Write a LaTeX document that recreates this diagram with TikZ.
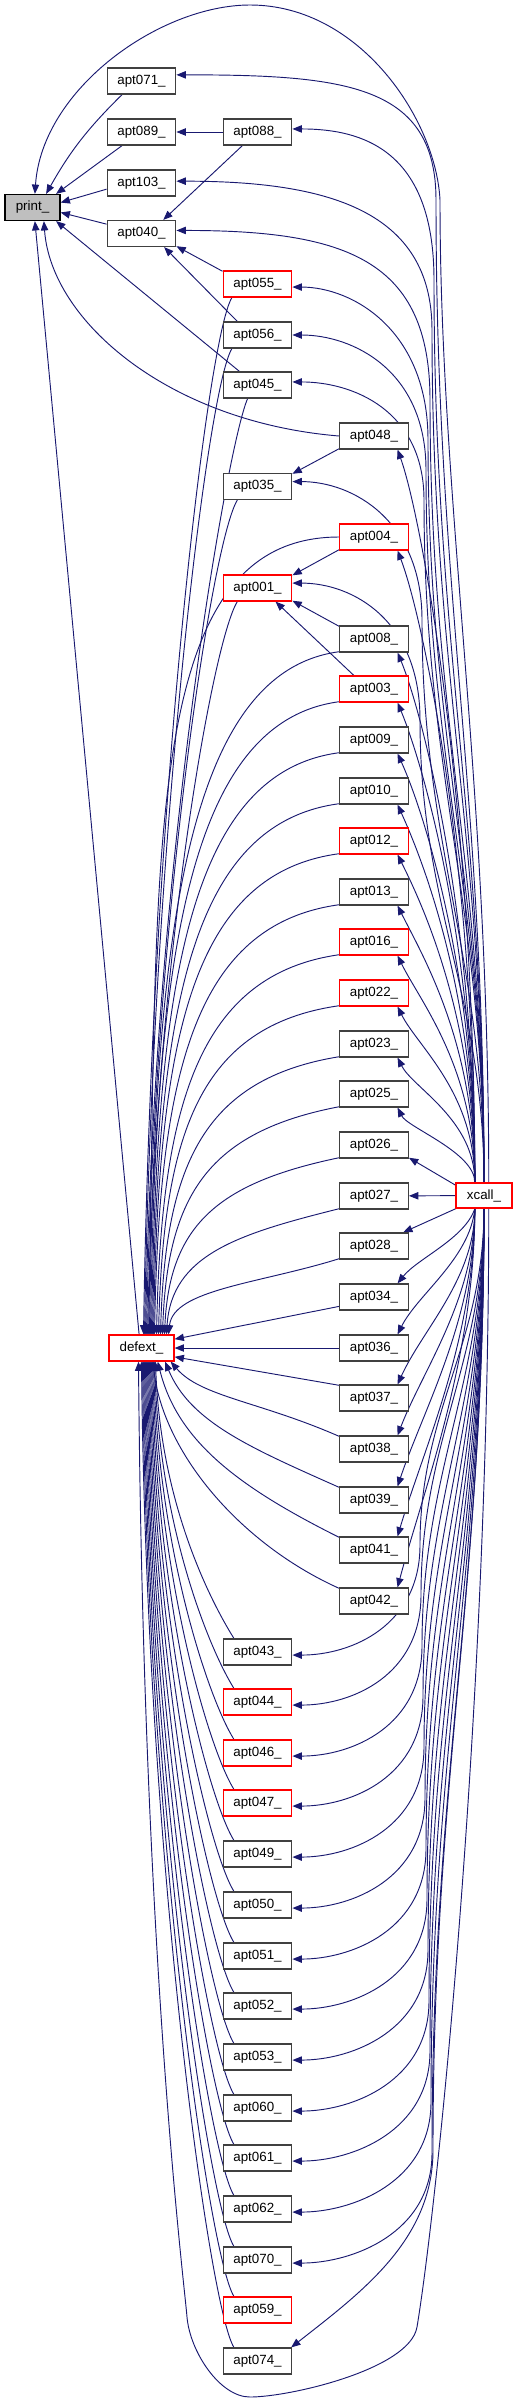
\documentclass[tikz,border=0pt]{standalone}
\usepackage{fontspec}
\setmainfont{Liberation Sans}
\usetikzlibrary{arrows.meta,calc}
\definecolor{edgeblue}{HTML}{191970}
\definecolor{boxgray}{HTML}{404040}
\definecolor{printfill}{HTML}{BFBFBF}
\pgfdeclarelayer{bg}
\pgfsetlayers{bg,main}
\begin{document}
\begin{tikzpicture}[x=0.75pt,y=-0.75pt,
  nbox/.style={draw=boxgray, line width=0.9pt, fill=white, inner sep=0pt, minimum height=19.5pt, font=\fontsize{10}{12}\selectfont},
  cw/.style={nbox, minimum width=51.5pt},
  edg/.style={draw=edgeblue, line width=0.7pt, -{Triangle[length=7pt,width=5.5pt]}},
]
\useasboundingbox (0,0) rectangle (517,2403);
% nodes
\node[nbox, fill=printfill, draw=black, minimum width=41.25pt] (print) at (32.5,207.5) {print\_};
\foreach \n/\y/\c in {apt071/81/boxgray, apt089/132/boxgray, apt103/183/boxgray, apt040/233.5/boxgray}
  \node[cw, draw=\c] (\n) at (141.5,\y) {\n\_};
\foreach \n/\y/\c in {apt088/132/boxgray, apt055/284/red, apt056/335/boxgray, apt045/385/boxgray, apt035/486.5/boxgray, apt001/588/red,
  apt043/1652/boxgray, apt044/1702/red, apt046/1753/red, apt047/1803/red, apt049/1854/boxgray, apt050/1905/boxgray, apt051/1956/boxgray,
  apt052/2006/boxgray, apt053/2057/boxgray, apt060/2108/boxgray, apt061/2158/boxgray, apt062/2209/boxgray, apt070/2260/boxgray,
  apt059/2310/red, apt074/2361/boxgray}
  \node[cw, draw=\c] (\n) at (257.5,\y) {\n\_};
\foreach \n/\y/\c in {apt048/436/boxgray, apt004/537/red, apt008/639/boxgray, apt003/689/red, apt009/740/boxgray, apt010/791/boxgray,
  apt012/841/red, apt013/892/boxgray, apt016/942/red, apt022/993/red, apt023/1044/boxgray, apt025/1094/boxgray, apt026/1145/boxgray,
  apt027/1196/boxgray, apt028/1246/boxgray, apt034/1297/boxgray, apt036/1348/boxgray, apt037/1398/boxgray, apt038/1449/boxgray,
  apt039/1500/boxgray, apt041/1550/boxgray, apt042/1601/boxgray}
  \node[cw, draw=\c] (\n) at (374,\y) {\n\_};
\node[nbox, draw=red, minimum width=48.75pt] (defext) at (141.5,1348) {defext\_};
\node[nbox, draw=red, minimum width=42pt, minimum height=18.75pt] (xcall) at (484,1195.5) {xcall\_};

\begin{pgfonlayer}{bg}
% edges into print_
\draw[edg] (apt071.215) to[bend right=8] (print.45);
\draw[edg] (apt089.215) -- (print.30);
\draw[edg] (apt103.190) -- (print.10);
\draw[edg] (apt040.165) -- (print.350);
\draw[edg] (defext.100) -- (print.280);
\draw[edg] (apt048.west) .. controls +(-170,-14) and +(7,100) .. (print.310);
\draw[edg] (apt045.143) -- (print.330);
\draw[edg] (xcall.70) .. controls +(0,-400) and +(0,300) .. (440,200) .. controls +(-4,-80) and +(110,0) .. (250,5) .. controls +(-90,0) and +(7,-105) .. (print.80);
% other direct edges
\draw[edg] (apt088) -- (apt089);
\draw[edg] (apt088.222) -- (apt040.32);
\draw[edg] (apt055.160) -- (apt040.340);
\draw[edg] (apt056.146) -- (apt040.329);
\draw[edg] (apt048.200) -- (apt035.20);
\draw[edg] (apt004.200) -- (apt001.20);
\draw[edg] (apt008.160) -- (apt001.340);
\draw[edg] (apt003.146) -- (apt001.323);
% into defext_ from upper column 3
\draw[edg] (apt055.208) .. controls +(-25,40) and +(8,-520) .. ($(defext.north)+(2,0)$);
\draw[edg] (apt056.208) .. controls +(-25,40) and +(8,-490) .. ($(defext.north)+(3,0)$);
\draw[edg] (apt045.234) .. controls +(-20,45) and +(8,-470) .. ($(defext.north)+(4,0)$);
\draw[edg] (apt035.214) .. controls +(-25,40) and +(8,-420) .. ($(defext.north)+(5,0)$);
\draw[edg] (apt001.214) .. controls +(-25,40) and +(8,-370) .. ($(defext.north)+(6,0)$);
% into defext_ from upper column 4
\draw[edg] (apt004.west) .. controls +(-200,0) and +(10,-480) .. ($(defext.north)+(7,0)$);
\foreach \n/\o/\a/\b/\c in {apt008/8/-150/20/-410, apt003/9/-150/20/-380, apt009/10/-150/20/-350, apt010/11/-150/20/-320,
  apt012/12/-150/20/-290, apt013/13/-145/20/-260, apt016/15/-140/20/-230, apt022/17/-140/20/-200, apt023/19/-135/22/-170,
  apt025/21/-130/25/-140, apt026/23/-120/25/-110, apt027/25/-100/25/-80, apt028/27/-80/25/-45}
  \draw[edg] (\n.200) .. controls +(\a,\b) and +(5,\c) .. ($(defext.north)+(\o,0)$);
% into defext_ from lower column 4
\draw[edg] (apt034.195) -- (defext.15);
\draw[edg] (apt036) -- (defext);
\draw[edg] (apt037.160) -- (defext.345);
\draw[edg] (apt038.160) .. controls +(-80,-35) and +(30,35) .. (defext.335);
\draw[edg] (apt039.160) .. controls +(-90,-40) and +(25,60) .. (defext.330);
\draw[edg] (apt041.160) .. controls +(-100,-50) and +(20,80) .. (defext.320);
\draw[edg] (apt042.160) .. controls +(-100,-45) and +(10,90) .. (defext.310);
% into defext_ from lower column 3
\foreach \n/\o/\c in {apt043/14/140, apt044/13/165, apt046/12/190, apt047/11/215, apt049/10/240, apt050/9/265, apt051/8/290,
  apt052/7/315, apt053/6/340, apt060/5/365, apt061/4/390, apt062/3/415, apt070/2/440, apt059/1/465, apt074/0/490}
  \draw[edg] (\n.150) .. controls +(-25,-40) and +(5,\c) .. ($(defext.south)+(\o,0)$);
% bottom loop xcall_ -> defext_
\draw[edg] (xcall.290) .. controls +(0,500) and +(20,-120) .. (417,2327) .. controls +(-7,42) and +(40,0) .. (250,2397)
  .. controls +(-30,0) and +(3,35) .. (187,2317) .. controls +(-3,-37) and +(5,600) .. ($(defext.south)+(-3,0)$);
% xcall_ to upper targets
\foreach \n/\a/\xv/\yv/\c/\d/\e in {apt071/10/436/200/393/115/170, apt088/5/434/280/361/130/70, apt103/3/432/330/341/120/150,
  apt040/5/430/400/313/140/170, apt055/355/428/440/297/110/60, apt056/0/426/470/285/100/60, apt045/5/424/500/273/90/60,
  apt035/8/422/620/225/100/60, apt001/8/420/720/185/100/60}
  \draw[edg] (xcall.north) .. controls +(0,-\c) and +(0,\c) .. (\xv,\yv) .. controls +(0,-\d) and +(\e,0) .. (\n.\a);
% xcall_ to lower column 3
\foreach \n/\xv/\yv/\c in {apt043/420/1545/135, apt044/421/1595/155, apt046/422/1646/175, apt047/423/1696/195,
  apt049/424/1747/215, apt050/425/1798/236, apt051/426/1849/256, apt052/427/1899/276, apt053/428/1950/297,
  apt060/429/2001/317, apt061/430/2051/337, apt062/431/2102/357, apt070/432/2153/378}
  \draw[edg] (xcall.south) .. controls +(0,\c) and +(0,-\c) .. (\xv,\yv) .. controls +(0,80) and +(60,0) .. (\n.355);
\draw[edg] (xcall.south) .. controls +(0,377) and +(0,-377) .. (433,2150) .. controls +(0,90) and +(70,-55) .. (apt074.22);
% xcall_ to upper column 4
\foreach \n/\c/\p/\q in {apt048/370/25/70, apt004/320/25/65, apt008/265/25/60, apt003/240/25/60, apt009/215/25/55,
  apt010/190/25/55, apt012/165/25/50, apt013/140/25/50, apt016/115/22/45, apt022/90/20/40, apt023/63/15/30, apt025/30/10/20}
  \draw[edg] (xcall.125) .. controls +(0,-\c) and +(\p,\q) .. (\n.330);
\draw[edg] (xcall.160) -- (apt026.340);
\draw[edg] (xcall) -- (apt027);
\draw[edg] (xcall.205) -- (apt028.25);
% xcall_ to lower column 4
\foreach \n/\a/\b/\p/\q in {apt034/-10/30/20/-25, apt036/-5/50/20/-40, apt037/0/70/25/-55, apt038/0/90/25/-65,
  apt039/0/110/25/-75, apt041/0/130/25/-85, apt042/0/150/25/-95}
  \draw[edg] (xcall.235) .. controls +(\a,\b) and +(\p,\q) .. (\n.30);
\end{pgfonlayer}
\end{tikzpicture}
\end{document}
